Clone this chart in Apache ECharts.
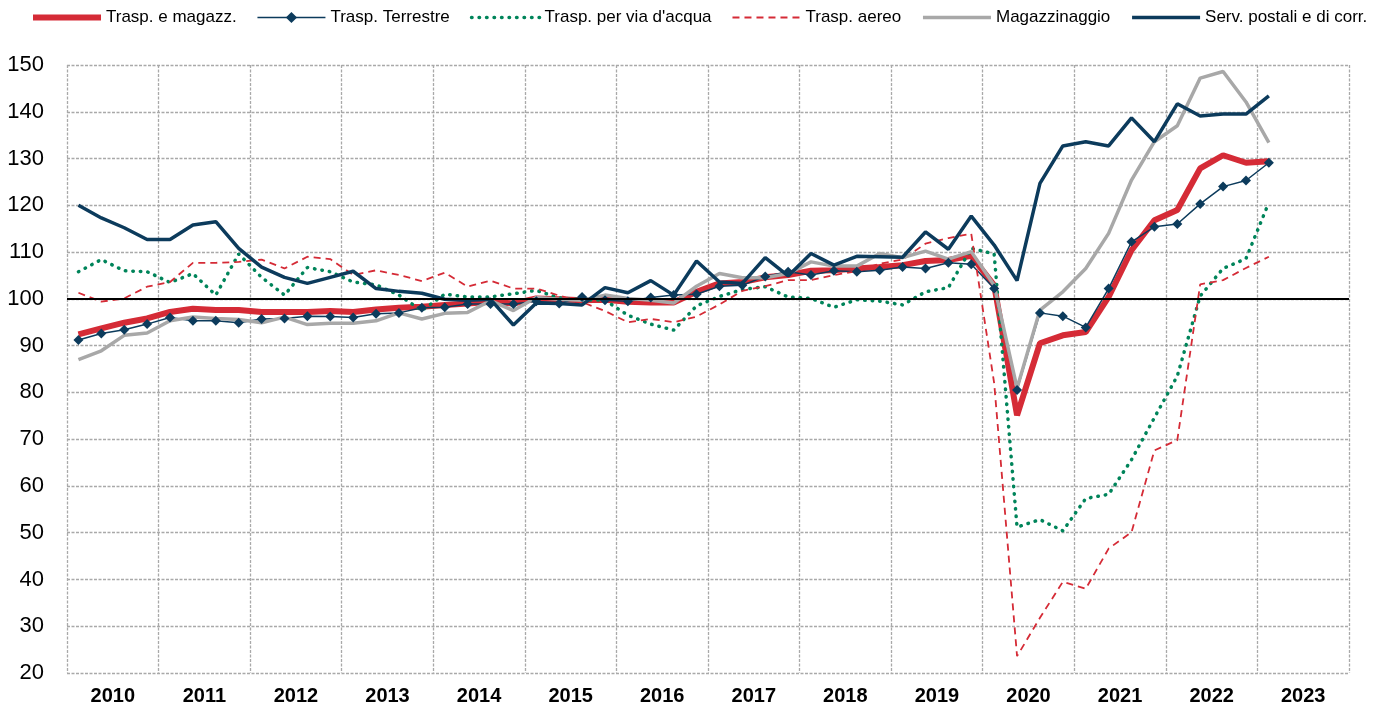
<!DOCTYPE html>
<html>
<head>
<meta charset="utf-8">
<script src="https://cdn.jsdelivr.net/npm/echarts@6/dist/echarts.min.js"></script>
<style>
  html, body { margin: 0; padding: 0; background: #fff; }
  #chart { width: 1373px; height: 708px; }
</style>
</head>
<body>
<div id="chart"></div>
<script>
// anni sull'asse x (etichette) e trimestri (categorie dei dati)
var years = ['2010', '2011', '2012', '2013', '2014', '2015', '2016', '2017', '2018', '2019', '2020', '2021', '2022', '2023']
var quarters = []
years.forEach(function (y) {
    ['T1', 'T2', 'T3', 'T4'].forEach(function (q) { quarters.push(q + ' ' + y) })
})

// indici trimestrali, 2010 T1 - 2023 T1
var traspMagazz = [92.4, 93.7, 94.9, 95.8, 97.2, 97.9, 97.6, 97.6, 97.2, 97.2,
    97.2, 97.4, 97.2, 97.7, 98.1, 98.3, 98.7, 99.0, 99.4, 99.0,
    100.1, 99.9, 99.7, 99.8, 99.4, 99.2, 99.2, 101.5, 103.3, 103.6,
    104.6, 105.1, 106.0, 106.1, 106.5, 106.8, 107.2, 108.1, 108.3, 109.2,
    102.9, 75.1, 90.5, 92.2, 92.9, 100.4, 110.4, 116.8, 119.0, 127.9,
    130.7, 129.1, 129.4]
var traspTerrestre = [91.2, 92.6, 93.4, 94.6, 96.0, 95.3, 95.3, 94.9, 95.7, 95.8,
    96.3, 96.2, 96.0, 96.8, 97.0, 98.1, 98.2, 98.9, 98.9, 98.9,
    99.5, 99.0, 100.4, 99.7, 99.5, 100.3, 100.8, 101.0, 102.7, 102.9,
    104.8, 105.8, 105.1, 106.0, 105.8, 106.1, 106.8, 106.5, 107.7, 107.4,
    102.2, 80.5, 97.0, 96.3, 93.9, 102.2, 112.2, 115.4, 116.0, 120.3,
    124.0, 125.3, 129.1]
var traspAcqua = [105.8, 108.4, 106.0, 105.8, 103.5, 105.4, 100.8, 109.6, 104.6, 100.8,
    106.7, 105.8, 103.6, 103.0, 100.8, 97.5, 101.0, 100.4, 100.4, 101.1,
    101.8, 100.2, 99.8, 99.7, 96.5, 94.6, 93.3, 98.5, 100.5, 102.0,
    102.6, 100.4, 100.1, 98.2, 99.8, 99.5, 98.7, 101.5, 102.4, 110.8,
    109.6, 51.2, 52.8, 50.4, 57.3, 58.2, 65.6, 74.6, 83.5, 100.6,
    106.5, 108.6, 120.6]
var traspAereo = [101.3, 99.4, 100.1, 102.6, 103.6, 107.7, 107.7, 107.9, 108.4, 106.5,
    109.0, 108.5, 105.1, 106.1, 105.1, 103.8, 105.6, 102.6, 103.9, 102.2,
    102.2, 100.7, 99.3, 97.4, 95.0, 95.7, 95.0, 96.2, 98.8, 101.7,
    102.7, 104.0, 104.0, 105.1, 105.9, 107.5, 108.4, 111.8, 113.0, 113.9,
    82.0, 23.6, 31.8, 39.5, 38.0, 46.6, 50.1, 67.6, 69.8, 103.1,
    104.0, 106.6, 109.0]
var magazzinaggio = [87.0, 88.9, 92.2, 92.7, 95.3, 96.1, 95.8, 95.6, 94.9, 96.1,
    94.5, 94.8, 94.8, 95.3, 97.0, 95.7, 96.9, 97.1, 99.6, 97.5,
    100.3, 99.9, 99.7, 100.8, 100.1, 99.7, 99.1, 102.7, 105.4, 104.5,
    104.5, 105.4, 107.9, 107.0, 107.0, 109.7, 108.8, 110.2, 108.5, 110.1,
    102.9, 80.9, 97.6, 101.5, 106.5, 114.0, 125.4, 133.6, 137.0, 147.2,
    148.6, 142.1, 133.4]
var servPostali = [120.0, 117.3, 115.2, 112.7, 112.7, 115.8, 116.5, 110.8, 106.8, 104.6,
    103.3, 104.6, 105.9, 102.2, 101.6, 101.2, 99.9, 99.7, 99.9, 94.4,
    99.1, 99.0, 98.7, 102.4, 101.3, 103.9, 100.8, 108.1, 103.6, 103.3,
    108.8, 104.9, 109.7, 107.2, 109.1, 109.0, 108.9, 114.3, 110.6, 117.7,
    111.5, 103.9, 124.7, 132.7, 133.6, 132.7, 138.7, 133.6, 141.7, 139.1,
    139.5, 139.5, 143.4]

var RED = '#d52b36'
var NAVY = '#0c3b5c'
var GREEN = '#00845a'
var GREY = '#a8a8a8'
var axisFont = '"Liberation Sans", Arial, sans-serif'
var gridLine = { show: true, lineStyle: { color: '#a9a9a9', width: 1.3, type: [3, 1.5] } }
var noSymbol = { opacity: 0 }

var myChart = echarts.init(document.getElementById('chart'))

var option = {
    animation: false,
    legend: {
        top: 9,
        left: 30,
        width: 1343,
        padding: 0,
        itemWidth: 68,
        itemHeight: 14,
        itemGap: 20,
        textStyle: { fontFamily: axisFont, fontSize: 17, color: '#000' },
        data: [
            { name: 'Trasp. e magazz.', itemStyle: noSymbol, lineStyle: { width: 6 } },
            { name: 'Trasp. Terrestre', lineStyle: { width: 1.5 } },
            { name: "Trasp. per via d'acqua", itemStyle: noSymbol, lineStyle: { width: 3.5 } },
            { name: 'Trasp. aereo', itemStyle: noSymbol, lineStyle: { width: 1.8 } },
            { name: 'Magazzinaggio', itemStyle: noSymbol, lineStyle: { width: 3.5 } },
            { name: 'Serv. postali e di corr.', itemStyle: noSymbol, lineStyle: { width: 3.5 } }
        ]
    },
    grid: {
        left: 67,
        right: 24,
        top: 65,
        bottom: 35
    },
    xAxis: [{
        type: 'category',
        data: quarters,
        boundaryGap: true,
        show: false
    }, {
        type: 'category',
        data: years,
        position: 'bottom',
        boundaryGap: true,
        axisLine: { show: false },
        axisTick: { show: false },
        axisLabel: {
            margin: 13,
            fontFamily: axisFont,
            fontWeight: 'bold',
            fontSize: 20,
            color: '#000'
        },
        splitLine: gridLine
    }],
    yAxis: {
        type: 'value',
        min: 20,
        max: 150,
        interval: 10,
        axisLine: { show: false },
        axisTick: { show: false },
        axisLabel: {
            margin: 23,
            fontFamily: axisFont,
            fontSize: 22,
            color: '#000'
        },
        splitLine: gridLine
    },
    series: [{
        name: 'Trasp. e magazz.',
        type: 'line',
        data: traspMagazz,
        symbol: 'none',
        lineStyle: { color: RED, width: 6 },
        itemStyle: { color: RED },
        markLine: {
            silent: true,
            symbol: 'none',
            label: { show: false },
            lineStyle: { color: '#000', width: 1.8, type: 'solid' },
            data: [{ yAxis: 100 }]
        }
    }, {
        name: 'Trasp. Terrestre',
        type: 'line',
        data: traspTerrestre,
        symbol: 'diamond',
        symbolSize: 10,
        lineStyle: { color: NAVY, width: 1.5 },
        itemStyle: { color: NAVY }
    }, {
        name: "Trasp. per via d'acqua",
        type: 'line',
        data: traspAcqua,
        symbol: 'none',
        lineStyle: { color: GREEN, width: 3.5, type: [0.5, 7], cap: 'round' },
        itemStyle: { color: GREEN }
    }, {
        name: 'Trasp. aereo',
        type: 'line',
        data: traspAereo,
        symbol: 'none',
        lineStyle: { color: RED, width: 1.8, type: [7, 5] },
        itemStyle: { color: RED }
    }, {
        name: 'Magazzinaggio',
        type: 'line',
        data: magazzinaggio,
        symbol: 'none',
        lineStyle: { color: GREY, width: 3.5 },
        itemStyle: { color: GREY }
    }, {
        name: 'Serv. postali e di corr.',
        type: 'line',
        data: servPostali,
        symbol: 'none',
        lineStyle: { color: NAVY, width: 3.5 },
        itemStyle: { color: NAVY }
    }]
}
myChart.setOption(option)
</script>
</body>
</html>
